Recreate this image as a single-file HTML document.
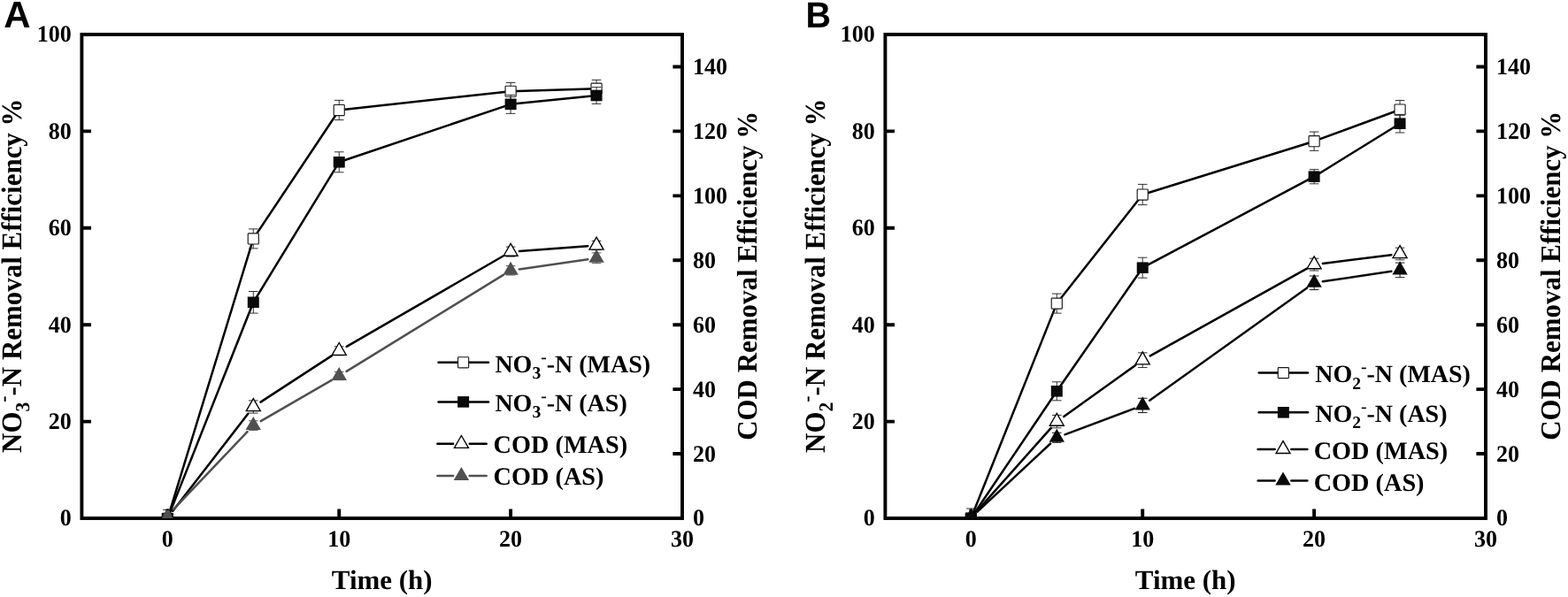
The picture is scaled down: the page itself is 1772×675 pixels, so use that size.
<!DOCTYPE html>
<html lang="en">
<head>
<meta charset="utf-8">
<title>Removal efficiency of nitrate, nitrite and COD over time</title>
<style>
html,body{margin:0;padding:0;background:#fff;}
body{width:1772px;height:675px;overflow:hidden;}
svg{display:block;}
</style>
</head>
<body>
<svg width="1772" height="675" viewBox="0 0 1772 675" text-rendering="geometricPrecision">
<defs><clipPath id="clip"><rect x="92.4" y="39" width="678.6" height="547"/></clipPath></defs>
<rect width="1772" height="675" fill="#fff"/>
<g transform="translate(0,0)">
<text transform="translate(4.3,30.7) scale(1,1)" font-family='"Liberation Sans", Arial, sans-serif' font-weight="700" font-size="42">A</text>
<rect x="92.4" y="39" width="678.6" height="547" fill="none" stroke="#000" stroke-width="3.9"/>
<path d="M92.4 476.6 h10.6 M92.4 367.2 h10.6 M92.4 257.8 h10.6 M92.4 148.4 h10.6 M92.4 39 h10.6 M771 513.07 h-10.6 M771 440.13 h-10.6 M771 367.2 h-10.6 M771 294.27 h-10.6 M771 221.33 h-10.6 M771 148.4 h-10.6 M771 75.47 h-10.6 M189.34 586 v-10.6 M383.23 586 v-10.6 M577.11 586 v-10.6" fill="none" stroke="#000" stroke-width="3.9"/>
<g clip-path="url(#clip)">
<path d="M189.34 586.4 L286.29 269.9 L383.23 124.5 L577.11 103.25 L674.06 100.2" fill="none" stroke="#000" stroke-width="2.5" stroke-linejoin="round" stroke-linecap="round"/>
<path d="M189.34 576.4 V596.4 M184.04 576.4 H194.64 M184.04 596.4 H194.64 M286.29 258.9 V280.9 M280.99 258.9 H291.59 M280.99 280.9 H291.59 M383.23 113.4 V135.6 M377.93 113.4 H388.53 M377.93 135.6 H388.53 M577.11 93.5 V113 M571.81 93.5 H582.41 M571.81 113 H582.41 M674.06 90.4 V110 M668.76 90.4 H679.36 M668.76 110 H679.36" fill="none" stroke="#262626" stroke-width="0.95"/>
<rect x="183.29" y="580.35" width="12.1" height="12.1" rx="0.8" fill="#fff" stroke="#1a1a1a" stroke-width="1.15"/>
<rect x="280.24" y="263.85" width="12.1" height="12.1" rx="0.8" fill="#fff" stroke="#1a1a1a" stroke-width="1.15"/>
<rect x="377.18" y="118.45" width="12.1" height="12.1" rx="0.8" fill="#fff" stroke="#1a1a1a" stroke-width="1.15"/>
<rect x="571.06" y="97.2" width="12.1" height="12.1" rx="0.8" fill="#fff" stroke="#1a1a1a" stroke-width="1.15"/>
<rect x="668.01" y="94.15" width="12.1" height="12.1" rx="0.8" fill="#fff" stroke="#1a1a1a" stroke-width="1.15"/>
<path d="M189.34 586.4 L286.29 341.8 L383.23 183.3 L577.11 117.85 L674.06 108" fill="none" stroke="#000" stroke-width="2.5" stroke-linejoin="round" stroke-linecap="round"/>
<path d="M286.29 329.5 V354.1 M280.99 329.5 H291.59 M280.99 354.1 H291.59 M383.23 171.8 V194.8 M377.93 171.8 H388.53 M377.93 194.8 H388.53 M577.11 107.35 V128.35 M571.81 107.35 H582.41 M571.81 128.35 H582.41 M674.06 98.6 V117.4 M668.76 98.6 H679.36 M668.76 117.4 H679.36" fill="none" stroke="#262626" stroke-width="0.95"/>
<rect x="182.84" y="580.1" width="13" height="12.6" fill="#0a0a0a"/>
<rect x="279.79" y="335.5" width="13" height="12.6" fill="#0a0a0a"/>
<rect x="376.73" y="177" width="13" height="12.6" fill="#0a0a0a"/>
<rect x="570.61" y="111.55" width="13" height="12.6" fill="#0a0a0a"/>
<rect x="667.56" y="101.7" width="13" height="12.6" fill="#0a0a0a"/>
<path d="M195.33 577.84 L280.3 467.76 M294.5 454.65 L375.02 402.15 M391.71 391.89 L568.63 289.51 M586.89 283.88 L664.28 278.22" fill="none" stroke="#000" stroke-width="2.5" stroke-linecap="round"/>
<path d="M286.29 452.9 V467.1 M280.99 452.9 H291.59 M280.99 467.1 H291.59 M383.23 391.8 V401.8 M377.93 391.8 H388.53 M377.93 401.8 H388.53 M577.11 279.1 V290.1 M571.81 279.1 H582.41 M571.81 290.1 H582.41 M674.06 272.4 V282.6 M668.76 272.4 H679.36 M668.76 282.6 H679.36" fill="none" stroke="#262626" stroke-width="0.95"/>
<polygon points="189.34,576.31 197.35,590.2 181.34,590.2" fill="#fff" stroke="#000" stroke-width="1.35" stroke-linejoin="miter"/>
<polygon points="286.29,450.71 294.29,464.6 278.28,464.6" fill="#fff" stroke="#000" stroke-width="1.35" stroke-linejoin="miter"/>
<polygon points="383.23,387.51 391.23,401.4 375.22,401.4" fill="#fff" stroke="#000" stroke-width="1.35" stroke-linejoin="miter"/>
<polygon points="577.11,275.31 585.12,289.2 569.11,289.2" fill="#fff" stroke="#000" stroke-width="1.35" stroke-linejoin="miter"/>
<polygon points="674.06,268.21 682.06,282.1 666.05,282.1" fill="#fff" stroke="#000" stroke-width="1.35" stroke-linejoin="miter"/>
<path d="M196.1 575.9 L279.53 488.2 M294.77 476.19 L374.75 429.91 M391.58 419.87 L568.77 310.93 M586.81 304.4 L664.36 293.2" fill="none" stroke="#505050" stroke-width="2.5" stroke-linecap="round"/>
<path d="M286.29 475.8 V486.4 M280.99 475.8 H291.59 M280.99 486.4 H291.59 M383.23 420.4 V429.6 M377.93 420.4 H388.53 M377.93 429.6 H388.53 M577.11 300.6 V311 M571.81 300.6 H582.41 M571.81 311 H582.41 M674.06 285.9 V297.7 M668.76 285.9 H679.36 M668.76 297.7 H679.36" fill="none" stroke="#505050" stroke-width="0.95"/>
<polygon points="187.14,577.1 191.54,577.1 195.44,586 183.04,586" fill="#505050"/>
<polygon points="286.29,471 294.99,486.1 277.59,486.1" fill="#505050"/>
<polygon points="383.23,414.9 391.93,430 374.53,430" fill="#505050"/>
<polygon points="577.11,295.7 585.81,310.8 568.41,310.8" fill="#505050"/>
<polygon points="674.06,281.7 682.76,296.8 665.36,296.8" fill="#505050"/>
</g>
<g font-family='"Liberation Serif", "Times New Roman", serif' font-weight="700" font-size="26.67" fill="#000">
<text transform="translate(80.9,594.4) scale(0.978,1)" text-anchor="end">0</text>
<text transform="translate(80.9,485) scale(0.978,1)" text-anchor="end">20</text>
<text transform="translate(80.9,375.6) scale(0.978,1)" text-anchor="end">40</text>
<text transform="translate(80.9,266.2) scale(0.978,1)" text-anchor="end">60</text>
<text transform="translate(80.9,156.8) scale(0.978,1)" text-anchor="end">80</text>
<text transform="translate(80.9,47.4) scale(0.978,1)" text-anchor="end">100</text>
<text transform="translate(782.9,594.45) scale(0.978,1)">0</text>
<text transform="translate(782.9,521.52) scale(0.978,1)">20</text>
<text transform="translate(782.9,448.58) scale(0.978,1)">40</text>
<text transform="translate(782.9,375.65) scale(0.978,1)">60</text>
<text transform="translate(782.9,302.72) scale(0.978,1)">80</text>
<text transform="translate(782.9,229.78) scale(0.978,1)">100</text>
<text transform="translate(782.9,156.85) scale(0.978,1)">120</text>
<text transform="translate(782.9,83.92) scale(0.978,1)">140</text>
<text transform="translate(189.34,618.4) scale(0.978,1)" text-anchor="middle">0</text>
<text transform="translate(383.23,618.4) scale(0.978,1)" text-anchor="middle">10</text>
<text transform="translate(577.11,618.4) scale(0.978,1)" text-anchor="middle">20</text>
<text transform="translate(771,618.4) scale(0.978,1)" text-anchor="middle">30</text>
</g>
<g font-family='"Liberation Serif", "Times New Roman", serif' font-weight="700" font-size="30.95" fill="#000" text-anchor="middle">
<text x="431.7" y="665.7">Time (h)</text>
<text transform="translate(23.9,311.7) rotate(-90) scale(1,1.045)">NO<tspan font-size="21.66" dy="8.36">3</tspan><tspan font-size="21.66" dy="-20.74">-</tspan><tspan dy="12.38">-N Removal Efficiency %</tspan></text>
<text transform="translate(855.4,311.8) rotate(-90) scale(1,1.03)">COD Removal Efficiency %</text>
</g>
<g font-family='"Liberation Serif", "Times New Roman", serif' font-weight="700" font-size="28.0" fill="#000">
<path d="M495.5 409.8 H552" stroke="#000" stroke-width="2.5" stroke-linecap="round"/>
<rect x="517.55" y="403.75" width="12.1" height="12.1" rx="0.8" fill="#fff" stroke="#1a1a1a" stroke-width="1.15"/>
<text x="559.4" y="420.7">NO<tspan font-size="19.6" dy="7.56">3</tspan><tspan font-size="19.6" dy="-18.76">-</tspan><tspan dy="11.2">-N (MAS)</tspan></text>
<path d="M495.5 454.4 H552" stroke="#000" stroke-width="2.5" stroke-linecap="round"/>
<rect x="517.1" y="448.1" width="13" height="12.6" fill="#0a0a0a"/>
<text x="559.4" y="464.9">NO<tspan font-size="19.6" dy="7.56">3</tspan><tspan font-size="19.6" dy="-18.76">-</tspan><tspan dy="11.2">-N (AS)</tspan></text>
<path d="M494.4 501.8 H512.1 M530.7 501.8 H549.7" stroke="#000" stroke-width="2.5" stroke-linecap="round"/>
<polygon points="521.4,492.51 529.4,506.4 513.4,506.4" fill="#fff" stroke="#000" stroke-width="1.35"/>
<text x="557.6" y="511.8" font-size="28.27">COD (MAS)</text>
<path d="M494.4 538 H512.1 M530.7 538 H549.7" stroke="#505050" stroke-width="2.5" stroke-linecap="round"/>
<polygon points="521.4,527.9 530.1,543 512.7,543" fill="#505050"/>
<text x="557.6" y="548.1" font-size="28.27">COD (AS)</text>
</g>
</g>
<g transform="translate(908,0)">
<text transform="translate(2.4,31.1) scale(0.965,1)" font-family='"Liberation Sans", Arial, sans-serif' font-weight="700" font-size="41">B</text>
<rect x="92.4" y="39" width="678.6" height="547" fill="none" stroke="#000" stroke-width="3.9"/>
<path d="M92.4 476.6 h10.6 M92.4 367.2 h10.6 M92.4 257.8 h10.6 M92.4 148.4 h10.6 M92.4 39 h10.6 M771 513.07 h-10.6 M771 440.13 h-10.6 M771 367.2 h-10.6 M771 294.27 h-10.6 M771 221.33 h-10.6 M771 148.4 h-10.6 M771 75.47 h-10.6 M189.34 586 v-10.6 M383.23 586 v-10.6 M577.11 586 v-10.6" fill="none" stroke="#000" stroke-width="3.9"/>
<g clip-path="url(#clip)">
<path d="M189.34 586 L286.29 343.1 L383.23 220 L577.11 159.7 L674.06 124" fill="none" stroke="#000" stroke-width="2.5" stroke-linejoin="round" stroke-linecap="round"/>
<path d="M189.34 575 V597 M184.04 575 H194.64 M184.04 597 H194.64 M286.29 332.1 V354.1 M280.99 332.1 H291.59 M280.99 354.1 H291.59 M383.23 208.4 V231.6 M377.93 208.4 H388.53 M377.93 231.6 H388.53 M577.11 149.05 V170.35 M571.81 149.05 H582.41 M571.81 170.35 H582.41 M674.06 113.5 V134.5 M668.76 113.5 H679.36 M668.76 134.5 H679.36" fill="none" stroke="#262626" stroke-width="0.95"/>
<rect x="183.29" y="579.95" width="12.1" height="12.1" rx="0.8" fill="#fff" stroke="#1a1a1a" stroke-width="1.15"/>
<rect x="280.24" y="337.05" width="12.1" height="12.1" rx="0.8" fill="#fff" stroke="#1a1a1a" stroke-width="1.15"/>
<rect x="377.18" y="213.95" width="12.1" height="12.1" rx="0.8" fill="#fff" stroke="#1a1a1a" stroke-width="1.15"/>
<rect x="571.06" y="153.65" width="12.1" height="12.1" rx="0.8" fill="#fff" stroke="#1a1a1a" stroke-width="1.15"/>
<rect x="668.01" y="117.95" width="12.1" height="12.1" rx="0.8" fill="#fff" stroke="#1a1a1a" stroke-width="1.15"/>
<path d="M189.34 586 L286.29 442.3 L383.23 302.7 L577.11 199.7 L674.06 139.7" fill="none" stroke="#000" stroke-width="2.5" stroke-linejoin="round" stroke-linecap="round"/>
<path d="M286.29 431.8 V452.8 M280.99 431.8 H291.59 M280.99 452.8 H291.59 M383.23 291.2 V314.2 M377.93 291.2 H388.53 M377.93 314.2 H388.53 M577.11 191.6 V207.8 M571.81 191.6 H582.41 M571.81 207.8 H582.41 M674.06 129.4 V150 M668.76 129.4 H679.36 M668.76 150 H679.36" fill="none" stroke="#262626" stroke-width="0.95"/>
<rect x="182.84" y="579.7" width="13" height="12.6" fill="#0a0a0a"/>
<rect x="279.79" y="436" width="13" height="12.6" fill="#0a0a0a"/>
<rect x="376.73" y="296.4" width="13" height="12.6" fill="#0a0a0a"/>
<rect x="570.61" y="193.4" width="13" height="12.6" fill="#0a0a0a"/>
<rect x="667.56" y="133.4" width="13" height="12.6" fill="#0a0a0a"/>
<path d="M195.86 578.08 L279.77 483.92 M294.25 470.9 L375.26 412.9 M391.79 402.43 L568.55 303.87 M586.84 297.89 L664.33 288.21" fill="none" stroke="#000" stroke-width="2.5" stroke-linecap="round"/>
<path d="M286.29 469.4 V483.8 M280.99 469.4 H291.59 M280.99 483.8 H291.59 M383.23 398.85 V415.55 M377.93 398.85 H388.53 M377.93 415.55 H388.53 M577.11 292.2 V306 M571.81 292.2 H582.41 M571.81 306 H582.41 M674.06 280.2 V293.8 M668.76 280.2 H679.36 M668.76 293.8 H679.36" fill="none" stroke="#262626" stroke-width="0.95"/>
<polygon points="189.34,576.11 197.35,590 181.34,590" fill="#fff" stroke="#000" stroke-width="1.35" stroke-linejoin="miter"/>
<polygon points="286.29,467.31 294.29,481.2 278.28,481.2" fill="#fff" stroke="#000" stroke-width="1.35" stroke-linejoin="miter"/>
<polygon points="383.23,397.91 391.23,411.8 375.22,411.8" fill="#fff" stroke="#000" stroke-width="1.35" stroke-linejoin="miter"/>
<polygon points="577.11,289.81 585.12,303.7 569.11,303.7" fill="#fff" stroke="#000" stroke-width="1.35" stroke-linejoin="miter"/>
<polygon points="674.06,277.71 682.06,291.6 666.05,291.6" fill="#fff" stroke="#000" stroke-width="1.35" stroke-linejoin="miter"/>
<path d="M196.5 578.71 L279.13 501.49 M295.46 491.36 L374.05 461.84 M391.2 452.7 L569.14 325.5 M586.81 318.36 L664.36 306.84" fill="none" stroke="#0a0a0a" stroke-width="2.5" stroke-linecap="round"/>
<path d="M286.29 489.3 V500.3 M280.99 489.3 H291.59 M280.99 500.3 H291.59 M383.23 450.25 V466.55 M377.93 450.25 H388.53 M377.93 466.55 H388.53 M577.11 312 V327.6 M571.81 312 H582.41 M571.81 327.6 H582.41 M674.06 297.1 V313.7 M668.76 297.1 H679.36 M668.76 313.7 H679.36" fill="none" stroke="#0a0a0a" stroke-width="0.95"/>
<polygon points="189.34,575.3 198.04,590.4 180.64,590.4" fill="#0a0a0a"/>
<polygon points="286.29,484.7 294.99,499.8 277.59,499.8" fill="#0a0a0a"/>
<polygon points="383.23,448.3 391.93,463.4 374.53,463.4" fill="#0a0a0a"/>
<polygon points="577.11,309.7 585.81,324.8 568.41,324.8" fill="#0a0a0a"/>
<polygon points="674.06,295.3 682.76,310.4 665.36,310.4" fill="#0a0a0a"/>
</g>
<g font-family='"Liberation Serif", "Times New Roman", serif' font-weight="700" font-size="26.67" fill="#000">
<text transform="translate(80.9,594.4) scale(0.978,1)" text-anchor="end">0</text>
<text transform="translate(80.9,485) scale(0.978,1)" text-anchor="end">20</text>
<text transform="translate(80.9,375.6) scale(0.978,1)" text-anchor="end">40</text>
<text transform="translate(80.9,266.2) scale(0.978,1)" text-anchor="end">60</text>
<text transform="translate(80.9,156.8) scale(0.978,1)" text-anchor="end">80</text>
<text transform="translate(80.9,47.4) scale(0.978,1)" text-anchor="end">100</text>
<text transform="translate(782.9,594.45) scale(0.978,1)">0</text>
<text transform="translate(782.9,521.52) scale(0.978,1)">20</text>
<text transform="translate(782.9,448.58) scale(0.978,1)">40</text>
<text transform="translate(782.9,375.65) scale(0.978,1)">60</text>
<text transform="translate(782.9,302.72) scale(0.978,1)">80</text>
<text transform="translate(782.9,229.78) scale(0.978,1)">100</text>
<text transform="translate(782.9,156.85) scale(0.978,1)">120</text>
<text transform="translate(782.9,83.92) scale(0.978,1)">140</text>
<text transform="translate(189.34,618.4) scale(0.978,1)" text-anchor="middle">0</text>
<text transform="translate(383.23,618.4) scale(0.978,1)" text-anchor="middle">10</text>
<text transform="translate(577.11,618.4) scale(0.978,1)" text-anchor="middle">20</text>
<text transform="translate(771,618.4) scale(0.978,1)" text-anchor="middle">30</text>
</g>
<g font-family='"Liberation Serif", "Times New Roman", serif' font-weight="700" font-size="30.95" fill="#000" text-anchor="middle">
<text x="431.7" y="665.7">Time (h)</text>
<text transform="translate(23.9,311.7) rotate(-90) scale(1,1.045)">NO<tspan font-size="21.66" dy="8.36">2</tspan><tspan font-size="21.66" dy="-20.74">-</tspan><tspan dy="12.38">-N Removal Efficiency %</tspan></text>
<text transform="translate(855.4,311.8) rotate(-90) scale(1,1.03)">COD Removal Efficiency %</text>
</g>
<g font-family='"Liberation Serif", "Times New Roman", serif' font-weight="700" font-size="28.0" fill="#000">
<path d="M514.7 421.6 H570" stroke="#000" stroke-width="2.5" stroke-linecap="round"/>
<rect x="536.3" y="415.55" width="12.1" height="12.1" rx="0.8" fill="#fff" stroke="#1a1a1a" stroke-width="1.15"/>
<text x="578.2" y="432.3">NO<tspan font-size="19.6" dy="7.56">2</tspan><tspan font-size="19.6" dy="-18.76">-</tspan><tspan dy="11.2">-N (MAS)</tspan></text>
<path d="M514.7 466.3 H570" stroke="#000" stroke-width="2.5" stroke-linecap="round"/>
<rect x="535.85" y="460" width="13" height="12.6" fill="#0a0a0a"/>
<text x="578.2" y="476.9">NO<tspan font-size="19.6" dy="7.56">2</tspan><tspan font-size="19.6" dy="-18.76">-</tspan><tspan dy="11.2">-N (AS)</tspan></text>
<path d="M513.6 507.9 H532.7 M551.3 507.9 H569.4" stroke="#000" stroke-width="2.5" stroke-linecap="round"/>
<polygon points="542,498.61 550,512.5 534,512.5" fill="#fff" stroke="#000" stroke-width="1.35"/>
<text x="576.7" y="518.6" font-size="28.27">COD (MAS)</text>
<path d="M513.6 543.6 H532.7 M551.3 543.6 H569.4" stroke="#0a0a0a" stroke-width="2.5" stroke-linecap="round"/>
<polygon points="542,533.5 550.7,548.6 533.3,548.6" fill="#0a0a0a"/>
<text x="576.7" y="554.6" font-size="28.27">COD (AS)</text>
</g>
</g>
</svg>
</body>
</html>
